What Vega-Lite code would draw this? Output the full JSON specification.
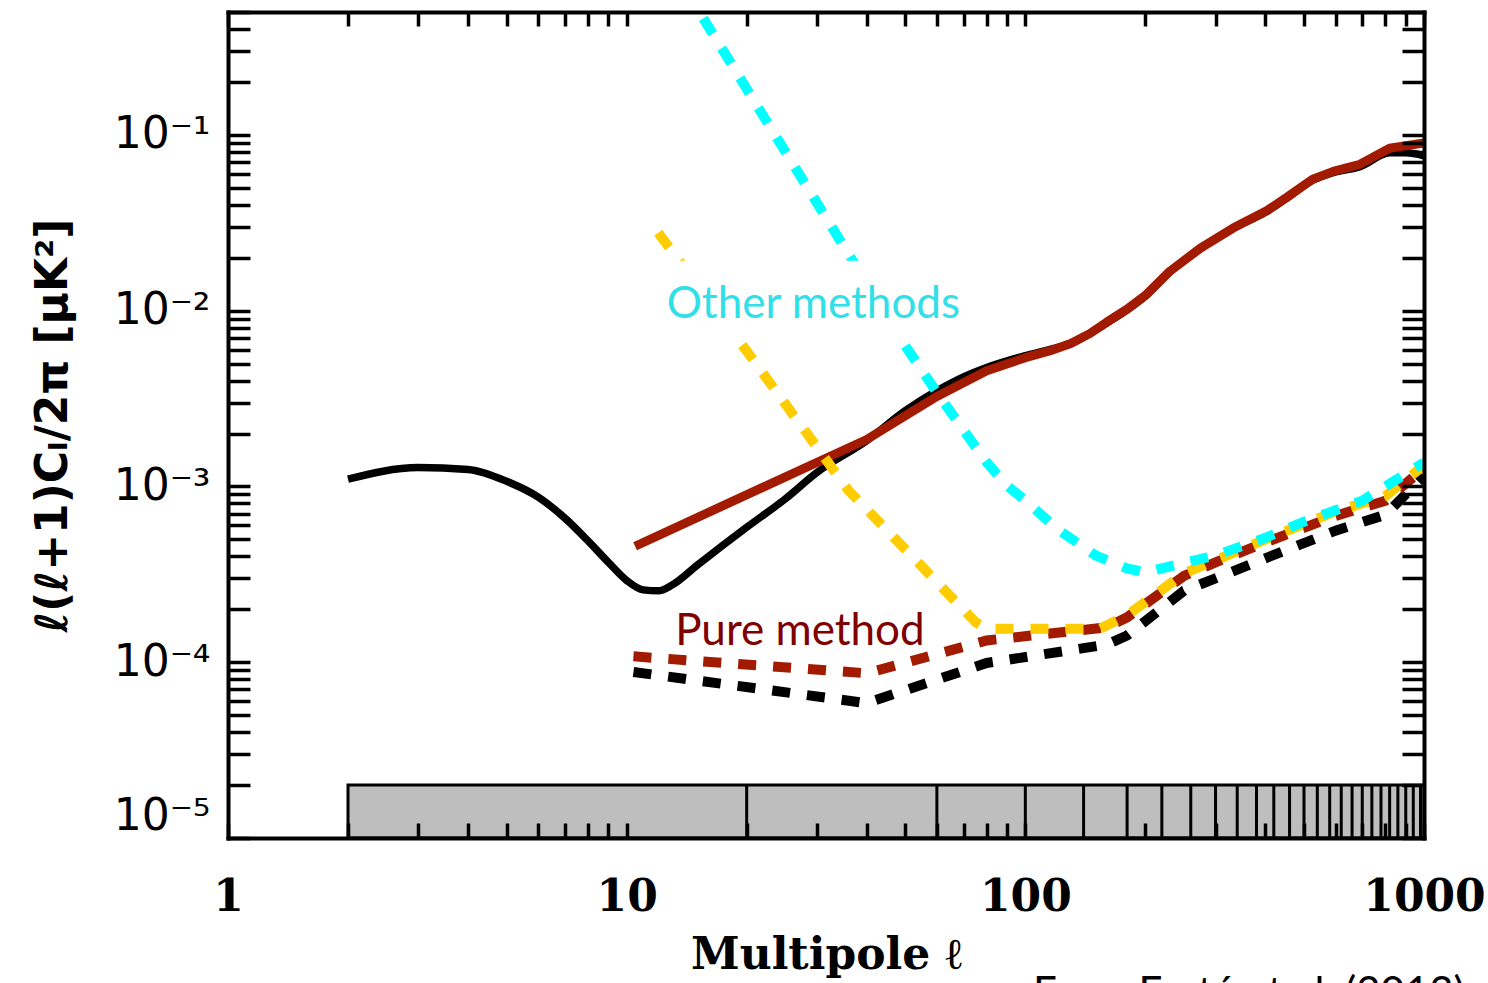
{
  "$schema": "https://vega.github.io/schema/vega-lite/v6.json",
  "width": 1196,
  "height": 826,
  "autosize": {"type": "none"},
  "padding": {"left": 228, "top": 12, "right": 64, "bottom": 145},
  "background": "white",
  "config": {
    "view": {"stroke": null},
    "axis": {"grid": false, "domainColor": "black", "tickColor": "black", "labelColor": "black", "titleColor": "black", "labelOverlap": false, "labelBound": false, "domainWidth": 4, "tickWidth": 3.5, "domainCap": "square"}
  },
  "datasets": {
    "bins": [{"lo": 2, "hi": 1000, "vlo": 0.00001, "vhi": 0.00002}],
    "edges": [{"ell": 20}, {"ell": 60}, {"ell": 100}, {"ell": 140}, {"ell": 180}, {"ell": 220}, {"ell": 260}, {"ell": 300}, {"ell": 340}, {"ell": 380}, {"ell": 420}, {"ell": 460}, {"ell": 500}, {"ell": 540}, {"ell": 580}, {"ell": 620}, {"ell": 660}, {"ell": 700}, {"ell": 740}, {"ell": 780}, {"ell": 820}, {"ell": 860}, {"ell": 900}, {"ell": 940}, {"ell": 980}],
    "curves": [
      {"series": "bk", "ell": 2, "cl": 0.00110}, {"series": "bk", "ell": 3, "cl": 0.00128}, {"series": "bk", "ell": 4, "cl": 0.00125}, {"series": "bk", "ell": 5, "cl": 0.00107}, {"series": "bk", "ell": 6, "cl": 0.00087}, {"series": "bk", "ell": 7, "cl": 0.00066}, {"series": "bk", "ell": 8, "cl": 0.00049}, {"series": "bk", "ell": 9, "cl": 0.00037}, {"series": "bk", "ell": 10, "cl": 0.000292}, {"series": "bk", "ell": 11, "cl": 0.000258}, {"series": "bk", "ell": 12, "cl": 0.000255}, {"series": "bk", "ell": 13, "cl": 0.000275}, {"series": "bk", "ell": 15, "cl": 0.000355}, {"series": "bk", "ell": 20, "cl": 0.000585}, {"series": "bk", "ell": 25, "cl": 0.00085}, {"series": "bk", "ell": 30, "cl": 0.0012}, {"series": "bk", "ell": 40, "cl": 0.00182}, {"series": "bk", "ell": 50, "cl": 0.0027}, {"series": "bk", "ell": 60, "cl": 0.0035}, {"series": "bk", "ell": 70, "cl": 0.0042}, {"series": "bk", "ell": 80, "cl": 0.00475}, {"series": "bk", "ell": 100, "cl": 0.00555}, {"series": "bk", "ell": 115, "cl": 0.006}, {"series": "bk", "ell": 130, "cl": 0.0065}, {"series": "bk", "ell": 145, "cl": 0.0074}, {"series": "bk", "ell": 160, "cl": 0.0085}, {"series": "bk", "ell": 180, "cl": 0.0101}, {"series": "bk", "ell": 200, "cl": 0.0121}, {"series": "bk", "ell": 230, "cl": 0.0166}, {"series": "bk", "ell": 275, "cl": 0.0225}, {"series": "bk", "ell": 332, "cl": 0.0293}, {"series": "bk", "ell": 403, "cl": 0.0366}, {"series": "bk", "ell": 452, "cl": 0.0435}, {"series": "bk", "ell": 526, "cl": 0.0552}, {"series": "bk", "ell": 592, "cl": 0.061}, {"series": "bk", "ell": 691, "cl": 0.066}, {"series": "bk", "ell": 820, "cl": 0.079}, {"series": "bk", "ell": 900, "cl": 0.079}, {"series": "bk", "ell": 1000, "cl": 0.076},
      {"series": "rd", "ell": 10.5, "cl": 0.000457}, {"series": "rd", "ell": 40, "cl": 0.00185}, {"series": "rd", "ell": 60, "cl": 0.00325}, {"series": "rd", "ell": 80, "cl": 0.00455}, {"series": "rd", "ell": 100, "cl": 0.0054}, {"series": "rd", "ell": 115, "cl": 0.0059}, {"series": "rd", "ell": 130, "cl": 0.0065}, {"series": "rd", "ell": 145, "cl": 0.0074}, {"series": "rd", "ell": 160, "cl": 0.0086}, {"series": "rd", "ell": 180, "cl": 0.0102}, {"series": "rd", "ell": 200, "cl": 0.0122}, {"series": "rd", "ell": 230, "cl": 0.0167}, {"series": "rd", "ell": 275, "cl": 0.0227}, {"series": "rd", "ell": 332, "cl": 0.0295}, {"series": "rd", "ell": 403, "cl": 0.037}, {"series": "rd", "ell": 452, "cl": 0.044}, {"series": "rd", "ell": 526, "cl": 0.056}, {"series": "rd", "ell": 592, "cl": 0.062}, {"series": "rd", "ell": 691, "cl": 0.068}, {"series": "rd", "ell": 820, "cl": 0.084}, {"series": "rd", "ell": 1000, "cl": 0.09},
      {"series": "kd", "ell": 10.4, "cl": 0.000088}, {"series": "kd", "ell": 40, "cl": 0.0000585}, {"series": "kd", "ell": 80, "cl": 0.000099}, {"series": "kd", "ell": 160, "cl": 0.000126}, {"series": "kd", "ell": 180, "cl": 0.000142}, {"series": "kd", "ell": 250, "cl": 0.000255}, {"series": "kd", "ell": 300, "cl": 0.0003}, {"series": "kd", "ell": 400, "cl": 0.00039}, {"series": "kd", "ell": 600, "cl": 0.00056}, {"series": "kd", "ell": 800, "cl": 0.00069}, {"series": "kd", "ell": 1000, "cl": 0.00115},
      {"series": "rdd", "ell": 10.4, "cl": 0.000108}, {"series": "rdd", "ell": 40, "cl": 0.0000865}, {"series": "rdd", "ell": 80, "cl": 0.000133}, {"series": "rdd", "ell": 160, "cl": 0.000158}, {"series": "rdd", "ell": 180, "cl": 0.00018}, {"series": "rdd", "ell": 250, "cl": 0.00031}, {"series": "rdd", "ell": 300, "cl": 0.00037}, {"series": "rdd", "ell": 400, "cl": 0.00048}, {"series": "rdd", "ell": 600, "cl": 0.00068}, {"series": "rdd", "ell": 800, "cl": 0.00083}, {"series": "rdd", "ell": 1000, "cl": 0.00127},
      {"series": "yd", "ell": 12, "cl": 0.0277}, {"series": "yd", "ell": 20, "cl": 0.0059}, {"series": "yd", "ell": 36, "cl": 0.00095}, {"series": "yd", "ell": 75, "cl": 0.000169}, {"series": "yd", "ell": 80, "cl": 0.000155}, {"series": "yd", "ell": 154, "cl": 0.000155}, {"series": "yd", "ell": 180, "cl": 0.000185}, {"series": "yd", "ell": 250, "cl": 0.00032}, {"series": "yd", "ell": 300, "cl": 0.00038}, {"series": "yd", "ell": 400, "cl": 0.0005}, {"series": "yd", "ell": 600, "cl": 0.00072}, {"series": "yd", "ell": 800, "cl": 0.00088}, {"series": "yd", "ell": 1000, "cl": 0.00132},
      {"series": "cd", "ell": 14, "cl": 0.68}, {"series": "cd", "ell": 30, "cl": 0.041}, {"series": "cd", "ell": 50, "cl": 0.0063}, {"series": "cd", "ell": 60, "cl": 0.00342}, {"series": "cd", "ell": 70, "cl": 0.00209}, {"series": "cd", "ell": 80, "cl": 0.00137}, {"series": "cd", "ell": 90, "cl": 0.00101}, {"series": "cd", "ell": 100, "cl": 0.00083}, {"series": "cd", "ell": 120, "cl": 0.000575}, {"series": "cd", "ell": 150, "cl": 0.000405}, {"series": "cd", "ell": 180, "cl": 0.000342}, {"series": "cd", "ell": 200, "cl": 0.000324}, {"series": "cd", "ell": 220, "cl": 0.000342}, {"series": "cd", "ell": 300, "cl": 0.000405}, {"series": "cd", "ell": 400, "cl": 0.00051}, {"series": "cd", "ell": 500, "cl": 0.00063}, {"series": "cd", "ell": 700, "cl": 0.00083}, {"series": "cd", "ell": 1000, "cl": 0.00137}
    ],
    "box": [{"lo": 12.1, "hi": 70.6, "vlo": 0.00693, "vhi": 0.0192}],
    "notes": [
      {"kind": "other", "ell": 29.4, "cl": 0.00912, "text": "Other methods"},
      {"kind": "pure", "ell": 27.2, "cl": 0.000125, "text": "Pure method"},
      {"kind": "credit", "ell": 1266, "cl": 0.00000109, "text": "From Ferté et al. (2013)"}
    ]
  },
  "layer": [
    {
      "data": {"name": "bins"},
      "mark": {"type": "rect", "fill": "#bebebe", "stroke": "black", "strokeWidth": 3},
      "encoding": {
        "x": {"field": "lo", "type": "quantitative", "scale": {"type": "log", "domain": [1, 1000], "nice": false},
          "axis": {"orient": "bottom", "zindex": 2, "labelFlush": false, "values": [1,2,3,4,5,6,7,8,9,10,20,30,40,50,60,70,80,90,100,200,300,400,500,600,700,800,900,1000],
            "labelExpr": "datum.value == 1 ? '1' : datum.value == 10 ? '10' : datum.value == 100 ? '100' : datum.value == 1000 ? '1000' : ''",
            "tickSize": -15, "labelPadding": 52, "labelFont": "DejaVu Serif", "labelFontWeight": "bold", "labelFontSize": 44,
            "title": "Multipole ℓ", "titleFont": "DejaVu Serif", "titleFontWeight": "bold", "titleFontSize": 44, "titlePadding": 14}},
        "x2": {"field": "hi"},
        "y": {"field": "vlo", "type": "quantitative", "scale": {"type": "log", "domain": [0.00001, 0.5], "nice": false},
          "axis": {"orient": "left", "zindex": 2, "values": [0.00001,0.00002,0.00003,0.00004,0.00005,0.00006,0.00007,0.00008,0.00009,0.0001,0.0002,0.0003,0.0004,0.0005,0.0006,0.0007,0.0008,0.0009,0.001,0.002,0.003,0.004,0.005,0.006,0.007,0.008,0.009,0.01,0.02,0.03,0.04,0.05,0.06,0.07,0.08,0.09,0.1,0.2,0.3,0.4,0.5],
            "labelExpr": "datum.value == 0.1 ? '10⁻¹' : datum.value == 0.01 ? '10⁻²' : datum.value == 0.001 ? '10⁻³' : datum.value == 0.0001 ? '10⁻⁴' : datum.value == 0.00001 ? '10⁻⁵' : ''",
            "labelFlush": true, "labelFlushOffset": 0,
            "tickSize": -22, "labelPadding": 40, "labelFont": "DejaVu Sans", "labelFontSize": 44,
            "title": "ℓ(ℓ+1)Cₗ/2π  [μK²]", "titleFont": "DejaVu Sans", "titleFontWeight": "bold", "titleFontSize": 44, "titlePadding": 38}},
        "y2": {"field": "vhi"}
      }
    },
    {
      "data": {"name": "edges"},
      "mark": {"type": "rule", "color": "black", "strokeWidth": 3},
      "encoding": {
        "x": {"field": "ell", "type": "quantitative", "scale": {"type": "log", "domain": [1, 1000], "nice": false},
          "axis": {"orient": "top", "zindex": 2, "values": [1,2,3,4,5,6,7,8,9,10,20,30,40,50,60,70,80,90,100,200,300,400,500,600,700,800,900,1000], "labels": false, "title": null, "tickSize": -14}},
        "y": {"datum": 0.00001, "type": "quantitative", "scale": {"type": "log", "domain": [0.00001, 0.5], "nice": false},
          "axis": {"orient": "right", "zindex": 2, "values": [0.00001,0.00002,0.00003,0.00004,0.00005,0.00006,0.00007,0.00008,0.00009,0.0001,0.0002,0.0003,0.0004,0.0005,0.0006,0.0007,0.0008,0.0009,0.001,0.002,0.003,0.004,0.005,0.006,0.007,0.008,0.009,0.01,0.02,0.03,0.04,0.05,0.06,0.07,0.08,0.09,0.1,0.2,0.3,0.4,0.5], "labels": false, "title": null, "tickSize": -22}},
        "y2": {"datum": 0.00002}
      }
    },
    {
      "data": {"name": "curves"},
      "transform": [{"filter": "datum.series == 'bk'"}],
      "mark": {"type": "line", "color": "black", "strokeWidth": 7.5, "clip": true, "strokeJoin": "round", "interpolate": "monotone"},
      "encoding": {
        "x": {"field": "ell", "type": "quantitative", "axis": null},
        "y": {"field": "cl", "type": "quantitative", "axis": null}
      }
    },
    {
      "data": {"name": "curves"},
      "transform": [{"filter": "datum.series == 'rd'"}],
      "mark": {"type": "line", "color": "#a21a00", "strokeWidth": 9, "clip": true, "strokeJoin": "round"},
      "encoding": {
        "x": {"field": "ell", "type": "quantitative", "axis": null},
        "y": {"field": "cl", "type": "quantitative", "axis": null}
      }
    },
    {
      "data": {"name": "curves"},
      "transform": [{"filter": "datum.series == 'kd'"}],
      "mark": {"type": "line", "color": "black", "strokeWidth": 10, "strokeDash": [18, 17], "clip": true},
      "encoding": {
        "x": {"field": "ell", "type": "quantitative", "axis": null},
        "y": {"field": "cl", "type": "quantitative", "axis": null}
      }
    },
    {
      "data": {"name": "curves"},
      "transform": [{"filter": "datum.series == 'rdd'"}],
      "mark": {"type": "line", "color": "#a21a00", "strokeWidth": 10, "strokeDash": [18, 17], "clip": true},
      "encoding": {
        "x": {"field": "ell", "type": "quantitative", "axis": null},
        "y": {"field": "cl", "type": "quantitative", "axis": null}
      }
    },
    {
      "data": {"name": "curves"},
      "transform": [{"filter": "datum.series == 'yd'"}],
      "mark": {"type": "line", "color": "#ffcc00", "strokeWidth": 10, "strokeDash": [18, 17], "clip": true},
      "encoding": {
        "x": {"field": "ell", "type": "quantitative", "axis": null},
        "y": {"field": "cl", "type": "quantitative", "axis": null}
      }
    },
    {
      "data": {"name": "curves"},
      "transform": [{"filter": "datum.series == 'cd'"}],
      "mark": {"type": "line", "color": "#00ffff", "strokeWidth": 10, "strokeDash": [18, 17], "clip": true},
      "encoding": {
        "x": {"field": "ell", "type": "quantitative", "axis": null},
        "y": {"field": "cl", "type": "quantitative", "axis": null}
      }
    },
    {
      "data": {"name": "box"},
      "mark": {"type": "rect", "fill": "white"},
      "encoding": {
        "x": {"field": "lo", "type": "quantitative", "axis": null},
        "x2": {"field": "hi"},
        "y": {"field": "vlo", "type": "quantitative", "axis": null},
        "y2": {"field": "vhi"}
      }
    },
    {
      "data": {"name": "notes"},
      "transform": [{"filter": "datum.kind == 'other'"}],
      "mark": {"type": "text", "color": "#30e0e8", "font": "Lato", "fontSize": 44, "align": "center", "baseline": "alphabetic"},
      "encoding": {
        "x": {"field": "ell", "type": "quantitative", "axis": null},
        "y": {"field": "cl", "type": "quantitative", "axis": null},
        "text": {"field": "text"}
      }
    },
    {
      "data": {"name": "notes"},
      "transform": [{"filter": "datum.kind == 'pure'"}],
      "mark": {"type": "text", "color": "#800000", "font": "Lato", "fontSize": 44, "align": "center", "baseline": "alphabetic"},
      "encoding": {
        "x": {"field": "ell", "type": "quantitative", "axis": null},
        "y": {"field": "cl", "type": "quantitative", "axis": null},
        "text": {"field": "text"}
      }
    },
    {
      "data": {"name": "notes"},
      "transform": [{"filter": "datum.kind == 'credit'"}],
      "mark": {"type": "text", "color": "black", "font": "Lato", "fontSize": 42, "align": "right", "baseline": "alphabetic"},
      "encoding": {
        "x": {"field": "ell", "type": "quantitative", "axis": null},
        "y": {"field": "cl", "type": "quantitative", "axis": null},
        "text": {"field": "text"}
      }
    }
  ],
  "resolve": {"axis": {"x": "independent", "y": "independent"}}
}
